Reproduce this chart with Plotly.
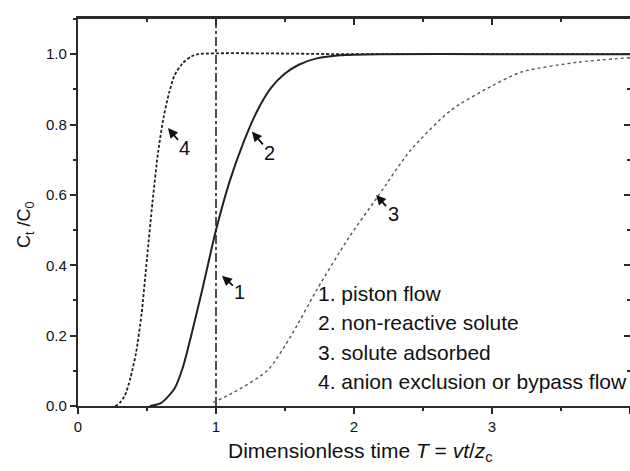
import plotly.graph_objects as go

# ---- data ----
piston_x = [1.0, 1.0]
piston_y = [0.0, 1.1]

nonreactive_x = [0.52, 0.6, 0.7, 0.76, 0.82, 0.9, 1.0, 1.1, 1.2, 1.3, 1.4, 1.5, 1.6, 1.73, 1.9, 2.2, 3.0, 4.0]
nonreactive_y = [0.0, 0.008, 0.05, 0.11, 0.2, 0.33, 0.5, 0.64, 0.75, 0.84, 0.905, 0.945, 0.97, 0.988, 0.997, 1.0, 1.0, 1.0]

adsorbed_x = [0.98, 1.12, 1.37, 1.54, 1.73, 1.96, 2.17, 2.41, 2.70, 3.0, 3.22, 3.62, 4.0]
adsorbed_y = [0.01, 0.037, 0.10, 0.197, 0.33, 0.477, 0.594, 0.727, 0.84, 0.91, 0.95, 0.977, 0.99]

anion_x = [0.27, 0.3, 0.34, 0.38, 0.42, 0.46, 0.5, 0.54, 0.58, 0.62, 0.66, 0.7, 0.76, 0.82, 0.87, 2.0, 4.0]
anion_y = [0.0, 0.008, 0.03, 0.08, 0.15, 0.26, 0.42, 0.58, 0.72, 0.82, 0.89, 0.94, 0.975, 0.993, 1.0, 1.0, 1.0]

legend_lines = ["1. piston flow", "2. non-reactive solute", "3. solute adsorbed",
                "4. anion exclusion or bypass flow"]
curve_labels = ["1", "2", "3", "4"]
label_tips_x = [1.043, 1.26, 2.16, 0.652]
label_tips_y = [0.37, 0.78, 0.60, 0.79]

x_ticks = [0, 1, 2, 3, 4]
y_ticks = [0.0, 0.2, 0.4, 0.6, 0.8, 1.0]

FONT = "Liberation Sans, Arial, Helvetica, sans-serif"
AX = "#2a2a2a"

fig = go.Figure()
fig.add_trace(go.Scatter(x=piston_x, y=piston_y, mode="lines",
                         line=dict(color="#222", width=1.6, dash="dashdot"), showlegend=False))
fig.add_trace(go.Scatter(x=nonreactive_x, y=nonreactive_y, mode="lines",
                         line=dict(color="#222", width=2.0, shape="spline", smoothing=0.7),
                         showlegend=False))
fig.add_trace(go.Scatter(x=adsorbed_x, y=adsorbed_y, mode="lines",
                         line=dict(color="#555", width=1.4, dash="dot", shape="spline", smoothing=0.7),
                         showlegend=False))
fig.add_trace(go.Scatter(x=anion_x, y=anion_y, mode="lines",
                         line=dict(color="#222", width=1.8, dash="3px,2px", shape="spline", smoothing=0.7),
                         showlegend=False))

offsets = {"1": (18, 16), "2": (18, 21), "3": (17, 19), "4": (17, 20)}
for lab, tx, ty in zip(curve_labels, label_tips_x, label_tips_y):
    ax, ay = offsets[lab]
    fig.add_annotation(x=tx, y=ty, xref="x", yref="y", text=lab, showarrow=True,
                       ax=ax, ay=ay, arrowhead=2, arrowsize=1.1, arrowwidth=1.8,
                       arrowcolor="#111", standoff=0,
                       font=dict(family=FONT, size=20, color="#111"))

for i, line in enumerate(legend_lines):
    fig.add_annotation(x=(316 - 78) / 552, y=(406 - (293 + i * 29.5)) / 387,
                       xref="paper", yref="paper", text=line, showarrow=False,
                       xanchor="left", yanchor="middle",
                       font=dict(family=FONT, size=21, color="#111"))

fig.add_annotation(x=(360 - 78) / 552, y=(406 - 452) / 387, xref="paper", yref="paper",
                   text="Dimensionless time <i>T</i> = <i>vt</i>/<i>z</i><sub>c</sub>",
                   showarrow=False, xanchor="center", yanchor="middle",
                   font=dict(family=FONT, size=21, color="#111"))
fig.add_annotation(x=(25 - 78) / 552, y=(406 - 225) / 387, xref="paper", yref="paper",
                   text="C<sub>t</sub> /C<sub>0</sub>", textangle=-90,
                   showarrow=False, xanchor="center", yanchor="middle",
                   font=dict(family=FONT, size=18, color="#111"))

fig.update_layout(
    width=630, height=471,
    margin=dict(l=78, r=0, t=19, b=65),
    paper_bgcolor="white", plot_bgcolor="white",
    xaxis=dict(range=[0, 4], tickvals=x_ticks, ticktext=[str(v) for v in x_ticks],
               ticks="outside", ticklen=6, tickwidth=1.5, tickcolor=AX,
               minor=dict(dtick=0.5, ticks="outside", ticklen=3, tickwidth=1.5, tickcolor=AX),
               showline=True, linewidth=2.2, linecolor=AX, showgrid=False, zeroline=False,
               tickfont=dict(family=FONT, size=15, color="#111")),
    yaxis=dict(range=[0, 1.1], tickvals=y_ticks, ticktext=[f"{v:.1f}" for v in y_ticks],
               ticks="outside", ticklen=6, tickwidth=1.5, tickcolor=AX,
               minor=dict(dtick=0.1, ticks="outside", ticklen=3, tickwidth=1.5, tickcolor=AX),
               showline=True, linewidth=2.2, linecolor=AX, showgrid=False, zeroline=False,
               tickfont=dict(family=FONT, size=15, color="#111")),
    xaxis2=dict(range=[0, 4], overlaying="x", side="top", anchor="y", dtick=1, tick0=0,
                ticks="inside", ticklen=6, tickwidth=1.5, tickcolor=AX,
                minor=dict(dtick=0.5, ticks="inside", ticklen=3, tickwidth=1.5, tickcolor=AX),
                showline=True, linewidth=2.8, linecolor=AX, showgrid=False, zeroline=False,
                showticklabels=False),
    yaxis2=dict(range=[0, 1.1], overlaying="y", side="right", anchor="x", dtick=0.2, tick0=0,
                ticks="inside", ticklen=6, tickwidth=1.5, tickcolor=AX,
                minor=dict(dtick=0.1, ticks="inside", ticklen=3, tickwidth=1.5, tickcolor=AX),
                showline=True, linewidth=2.2, linecolor=AX, showgrid=False, zeroline=False,
                showticklabels=False),
)
# invisible helper so that the top/right axes are drawn
fig.add_trace(go.Scatter(x=[None], y=[None], xaxis="x2", yaxis="y2", showlegend=False,
                         hoverinfo="skip"))

fig.write_html("out.html")
